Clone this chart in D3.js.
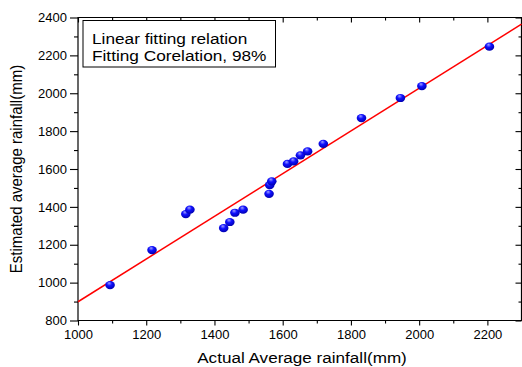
<!DOCTYPE html>
<html>
<head>
  <meta charset="utf-8">
  <title>Rainfall Fit</title>
  <style>
  body { margin: 0; background: #fff; }
  text { font-family: "Liberation Sans", Arial, sans-serif; fill: #000; }
  .tick-label { font-size: 13px; }
  .axis-title { font-size: 15px; }
  .legend-text { font-size: 15px; }
  .frame line { stroke: #000; stroke-width: 1.2px; }
  .fit { fill: none; stroke: #ff0000; stroke-width: 1.5px; }
  </style>
</head>
<body>
  <div id="chart"></div>
  <script src="https://cdn.jsdelivr.net/npm/d3@7"></script>
  <script>
  //values
  var actual    = [1094, 1217, 1316, 1328, 1427, 1445, 1460, 1484, 1560, 1562, 1568, 1614, 1632, 1652, 1673, 1719, 1831, 1945, 2008, 2206];
  var estimated = [987, 1172, 1362, 1385, 1288, 1320, 1369, 1385, 1469, 1515, 1535, 1627, 1640, 1672, 1693, 1733, 1869, 1975, 2038, 2246];
  //ends of the fitted line
  var fitX = [1000, 2300];
  var fitY = [899, 2365];
  var xTicks = [1000, 1200, 1400, 1600, 1800, 2000, 2200];
  var yTicks = [800, 1000, 1200, 1400, 1600, 1800, 2000, 2200, 2400];
  var legendLines = ["Linear fitting relation", "Fitting Corelation, 98%"];

  var width = 522, height = 367;
  //plot edges (note: "top" is taken by window.top)
  var pLeft = 78, pRight = 521.5, pTop = 17.5, pBottom = 320.5;
  //the original picture is a bit stretched sideways
  var stretch = 1.15;

  var svg = d3.select("#chart")
  .append("svg")
  .attr("width", width)
  .attr("height", height);

  var defs = svg.append("defs");
  var grad = defs.append("radialGradient")
  .attr("id", "ball")
  .attr("cx", "45%").attr("cy", "40%").attr("r", "60%")
  .attr("fx", "40%").attr("fy", "25%");
  grad.append("stop").attr("offset", "0%").attr("stop-color", "#a0a0ff");
  grad.append("stop").attr("offset", "45%").attr("stop-color", "#1010ff");
  grad.append("stop").attr("offset", "100%").attr("stop-color", "#0000b0");

  var x = d3.scaleLinear().domain([1000, 2300]).range([pLeft, pRight]);
  var y = d3.scaleLinear().domain([800, 2400]).range([pBottom, pTop]);

  //minor ticks halfway between the majors
  var xMinor = d3.range(1100, 2300, 200);
  var yMinor = d3.range(900, 2400, 200);

  //bottom axis
  var bx = svg.append("g")
  .attr("transform", "translate(0," + pBottom + ")")
  .call(d3.axisBottom(x).tickValues(xTicks).tickSize(5).tickPadding(4).tickFormat(d3.format("d")));
  bx.append("g").call(d3.axisBottom(x).tickValues(xMinor).tickSize(3).tickFormat(""));

  //left axis
  var ly = svg.append("g")
  .attr("transform", "translate(" + pLeft + ",0)")
  .call(d3.axisLeft(y).tickValues(yTicks).tickSize(8).tickPadding(3).tickFormat(d3.format("d")));
  ly.append("g").call(d3.axisLeft(y).tickValues(yMinor).tickSize(4).tickFormat(""));

  //top axis, ticks pointing in
  var tx = svg.append("g")
  .attr("transform", "translate(0," + pTop + ")")
  .call(d3.axisBottom(x).tickValues(xTicks).tickSize(5).tickFormat(""));
  tx.append("g").call(d3.axisBottom(x).tickValues(xMinor).tickSize(3).tickFormat(""));

  //right axis, ticks pointing in
  var ry = svg.append("g")
  .attr("transform", "translate(" + pRight + ",0)")
  .call(d3.axisLeft(y).tickValues(yTicks).tickSize(6).tickFormat(""));
  ry.append("g").call(d3.axisLeft(y).tickValues(yMinor).tickSize(3).tickFormat(""));

  svg.selectAll(".domain").remove();
  svg.selectAll(".tick line").attr("stroke", "#000").attr("stroke-width", 1.1);
  svg.selectAll(".tick text").attr("class", "tick-label").attr("fill", "#000");

  //frame
  var frame = svg.append("g").attr("class", "frame");
  frame.append("line").attr("x1", x(1000)).attr("x2", x(2300)).attr("y1", y(800)).attr("y2", y(800));
  frame.append("line").attr("x1", x(1000)).attr("x2", x(2300)).attr("y1", y(2400)).attr("y2", y(2400));
  frame.append("line").attr("x1", x(1000)).attr("x2", x(1000)).attr("y1", y(800) + 0.6).attr("y2", y(2400) - 0.6);
  frame.append("line").attr("x1", x(2300)).attr("x2", x(2300)).attr("y1", y(800) + 0.6).attr("y2", y(2400) - 0.6);

  //fitted line
  var line = d3.line()
  .x(function(d) { return x(d[0]); })
  .y(function(d) { return y(d[1]); });

  svg.append("path")
  .datum(d3.zip(fitX, fitY))
  .attr("class", "fit")
  .attr("d", line);

  //points
  svg.append("g")
  .selectAll("ellipse")
  .data(d3.zip(actual, estimated))
  .enter().append("ellipse")
  .attr("cx", function(d) { return x(d[0]); })
  .attr("cy", function(d) { return y(d[1]); })
  .attr("rx", 4.8)
  .attr("ry", 4.1)
  .attr("fill", "url(#ball)");

  //legend box
  var lg = svg.append("g");
  lg.append("rect")
  .attr("x", 83).attr("y", 20.5)
  .attr("width", 192.5).attr("height", 46.5)
  .attr("fill", "#fff").attr("stroke", "#000").attr("stroke-width", 1);
  lg.selectAll("text")
  .data(legendLines)
  .enter().append("text")
  .attr("class", "legend-text")
  .attr("transform", function(d, i) { return "translate(92," + (43.5 + i * 17.7) + ") scale(" + stretch + ",1)"; })
  .text(function(d) { return d; });

  //axis titles
  svg.append("text")
  .attr("class", "axis-title")
  .attr("transform", "translate(302,363) scale(" + (stretch - 0.01) + ",1)")
  .attr("text-anchor", "middle")
  .text("Actual Average rainfall(mm)");

  svg.append("text")
  .attr("class", "axis-title")
  .attr("font-size", "14.5px")
  .attr("transform", "translate(21.5," + ((pTop + pBottom) / 2) + ") scale(" + stretch + ",1) rotate(-90)")
  .attr("text-anchor", "middle")
  .text("Estimated average rainfall(mm)");
  </script>
</body>
</html>
